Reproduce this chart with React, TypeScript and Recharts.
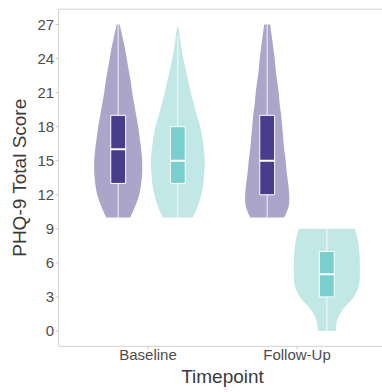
import React from "react"
import { ComposedChart, Scatter, XAxis, YAxis, ReferenceArea, Label } from "recharts"

const timepoints = ["Baseline", "Follow-Up"]
const scoreTicks = [0, 3, 6, 9, 12, 15, 18, 21, 24, 27]

// violin density (relative half-width) per score
const groupAScores = [
  [10, 11, 12, 13, 14, 15, 16, 17, 18, 19, 20, 21, 22, 23, 24, 25, 26, 27],
  [10, 11, 12, 13, 14, 15, 16, 17, 18, 19, 20, 21, 22, 23, 24, 25, 26, 27],
]
const groupADensity = [
  [12, 17, 21, 23, 24, 24, 23, 21.5, 20, 18, 16, 14, 12.5, 10.5, 8.5, 6.5, 4, 1.5],
  [17, 21.5, 22, 21, 19.5, 18.5, 17, 16, 15, 14, 12.5, 11.5, 10, 8.5, 7.5, 6, 4.5, 3],
]
const groupBScores = [
  [10, 11, 12, 13, 14, 15, 16, 17, 18, 19, 20, 21, 22, 23, 24, 25, 26, 26.8],
  [0, 1, 2, 3, 4, 5, 6, 7, 8, 9],
]
const groupBDensity = [
  [15, 20, 23.5, 25.5, 26.5, 27, 26, 24.5, 22.5, 19, 16, 13, 10.5, 8, 5.5, 3.5, 2, 0.5],
  [9, 10.5, 17, 27, 32, 33, 33, 32.5, 31, 28],
]

// box plot stats per timepoint
const groupAMin = [10, 10]
const groupAQ1 = [13, 12]
const groupAMedian = [16, 15]
const groupAQ3 = [19, 19]
const groupAMax = [27, 27]
const groupBMin = [10, 0]
const groupBQ1 = [13, 3]
const groupBMedian = [15, 5]
const groupBQ3 = [18, 7]
const groupBMax = [26, 9]
const groupBOutliers = [[27], []]

const DENSITY_SCALE = 1 / 149
const DODGE = 0.2
const BOX_HALF = 0.05

const PURPLE_VIOLIN = "#aaa5c9"
const PURPLE_BOX = "#483d8b"
const TEAL_VIOLIN = "#c1e7e6"
const TEAL_BOX = "#79cfcd"

type Pt = { x: number; y: number }

function violinData(center: number, scores: number[], dens: number[]): Pt[] {
  const right = scores.map((s, i) => ({ x: center + dens[i] * DENSITY_SCALE, y: s }))
  const left = scores.map((s, i) => ({ x: center - dens[i] * DENSITY_SCALE, y: s })).reverse()
  return [...right, ...left]
}

function smooth(pts: Pt[]) {
  let d = ""
  for (let i = 0; i < pts.length - 1; i++) {
    const p0 = pts[Math.max(i - 1, 0)]
    const p1 = pts[i]
    const p2 = pts[i + 1]
    const p3 = pts[Math.min(i + 2, pts.length - 1)]
    const c1x = p1.x + (p2.x - p0.x) / 6
    const c1y = p1.y + (p2.y - p0.y) / 6
    const c2x = p2.x - (p3.x - p1.x) / 6
    const c2y = p2.y - (p3.y - p1.y) / 6
    d += ` C${c1x},${c1y} ${c2x},${c2y} ${p2.x},${p2.y}`
  }
  return d
}

const violinLine = (fill: string) => (props: any) => {
  const pts: Pt[] = props.points || []
  if (pts.length < 4) return <g />
  const n = pts.length / 2
  const right = pts.slice(0, n)
  const left = pts.slice(n)
  const d = `M${right[0].x},${right[0].y}${smooth(right)} L${left[0].x},${left[0].y}${smooth(left)} Z`
  return <path d={d} fill={fill} stroke="none" />
}

const boxLine = (fill: string) => (props: any) => {
  const pts: Pt[] = props.points || []
  if (pts.length < 4) return <g />
  const d = "M" + pts.map((p) => `${p.x},${p.y}`).join(" L") + " Z"
  return <path d={d} fill={fill} stroke="#ffffff" strokeWidth={1} />
}

const segLine = (width: number, opacity: number) => (props: any) => {
  const pts: Pt[] = props.points || []
  if (pts.length < 2) return <g />
  return (
    <path
      d={`M${pts[0].x},${pts[0].y} L${pts[1].x},${pts[1].y}`}
      stroke="#ffffff"
      strokeOpacity={opacity}
      strokeWidth={width}
      fill="none"
    />
  )
}

const noDot = () => <g />

export default function App() {
  const groups = [
    {
      key: "a",
      offset: -DODGE,
      scores: groupAScores,
      density: groupADensity,
      min: groupAMin,
      q1: groupAQ1,
      median: groupAMedian,
      q3: groupAQ3,
      max: groupAMax,
      outliers: [[], []] as number[][],
      violin: PURPLE_VIOLIN,
      box: PURPLE_BOX,
    },
    {
      key: "b",
      offset: DODGE,
      scores: groupBScores,
      density: groupBDensity,
      min: groupBMin,
      q1: groupBQ1,
      median: groupBMedian,
      q3: groupBQ3,
      max: groupBMax,
      outliers: groupBOutliers,
      violin: TEAL_VIOLIN,
      box: TEAL_BOX,
    },
  ]

  const violins: React.ReactNode[] = []
  const whiskers: React.ReactNode[] = []
  const boxes: React.ReactNode[] = []
  const medians: React.ReactNode[] = []
  const outliers: React.ReactNode[] = []

  groups.forEach((g) => {
    timepoints.forEach((_, i) => {
      const c = i + 1 + g.offset
      violins.push(
        <Scatter
          key={`v-${g.key}-${i}`}
          data={violinData(c, g.scores[i], g.density[i])}
          dataKey="y"
          shape={noDot}
          line={violinLine(g.violin)}
          isAnimationActive={false}
        />
      )
      whiskers.push(
        <Scatter
          key={`w-${g.key}-${i}`}
          data={[{ x: c, y: g.min[i] }, { x: c, y: g.max[i] }]}
          dataKey="y"
          shape={noDot}
          line={segLine(1.4, 0.6)}
          isAnimationActive={false}
        />
      )
      boxes.push(
        <Scatter
          key={`b-${g.key}-${i}`}
          data={[
            { x: c - BOX_HALF, y: g.q1[i] },
            { x: c + BOX_HALF, y: g.q1[i] },
            { x: c + BOX_HALF, y: g.q3[i] },
            { x: c - BOX_HALF, y: g.q3[i] },
          ]}
          dataKey="y"
          shape={noDot}
          line={boxLine(g.box)}
          isAnimationActive={false}
        />
      )
      medians.push(
        <Scatter
          key={`m-${g.key}-${i}`}
          data={[{ x: c - BOX_HALF, y: g.median[i] }, { x: c + BOX_HALF, y: g.median[i] }]}
          dataKey="y"
          shape={noDot}
          line={segLine(2, 1)}
          isAnimationActive={false}
        />
      )
      if (g.outliers[i].length) {
        outliers.push(
          <Scatter
            key={`o-${g.key}-${i}`}
            data={g.outliers[i].map((v) => ({ x: c, y: v }))}
            dataKey="y"
            shape={(p: any) => <circle cx={p.cx} cy={p.cy} r={2.5} fill="#ffffff" />}
            isAnimationActive={false}
          />
        )
      }
    })
  })

  return (
    <div style={{ position: "absolute", left: 0, top: 0 }}>
      <ComposedChart
        width={390}
        height={392}
        margin={{ top: 9.2, right: 3.6, left: 0, bottom: 0 }}
        style={{ fontFamily: "'Liberation Sans', Arial, sans-serif" }}
      >
        <XAxis
          type="number"
          dataKey="x"
          domain={[0.4, 2.6]}
          ticks={[1, 2]}
          tickFormatter={(v) => timepoints[v - 1] ?? ""}
          allowDataOverflow
          axisLine={false}
          tickLine={{ stroke: "#c8c8c8" }}
          tickSize={3}
          tickMargin={0}
          height={45.7}
          tick={{ fill: "#4d4d4d", fontSize: 15 }}
        >
          <Label value="Timepoint" position="insideBottom" offset={9} fill="#3a3a3a" fontSize={19} />
        </XAxis>
        <YAxis
          type="number"
          dataKey="y"
          domain={[-1.35, 28.35]}
          ticks={scoreTicks}
          allowDataOverflow
          axisLine={false}
          tickLine={{ stroke: "#c8c8c8" }}
          tickSize={3}
          tickMargin={1.5}
          width={58.6}
          tick={{ fill: "#4d4d4d", fontSize: 15 }}
        >
          <Label
            value="PHQ-9 Total Score"
            angle={-90}
            position="insideLeft"
            offset={19}
            fill="#3a3a3a"
            fontSize={19}
            style={{ textAnchor: "middle" }}
          />
        </YAxis>
        <ReferenceArea
          x1={0.4}
          x2={2.6}
          y1={-1.35}
          y2={28.35}
          fill="none"
          stroke="#d2d2d2"
          strokeWidth={1}
          ifOverflow="visible"
        />
        {violins}
        {whiskers}
        {boxes}
        {medians}
        {outliers}
      </ComposedChart>
    </div>
  )
}
